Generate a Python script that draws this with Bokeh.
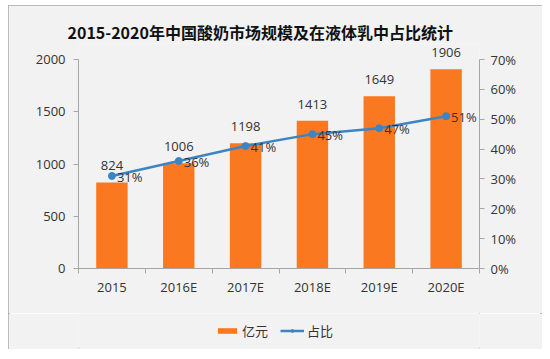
from bokeh.plotting import figure
from bokeh.layouts import column
from bokeh.models import (Range1d, LinearAxis, FixedTicker, Legend, LegendItem,
                          ColumnDataSource, Title)
from bokeh.embed import file_html
from bokeh.resources import INLINE
from bokeh.core.properties import value

# ---- data ----
categories = ["2015", "2016E", "2017E", "2018E", "2019E", "2020E"]
market_size = [824, 1006, 1198, 1413, 1649, 1906]   # 亿元
share_pct = [31, 36, 41, 45, 47, 51]                # 占比 %
left_ticks = [0, 500, 1000, 1500, 2000]
right_ticks = [0, 10, 20, 30, 40, 50, 60, 70]
title_text = "2015-2020年中国酸奶市场规模及在液体乳中占比统计"
series_names = ["亿元", "占比"]

BAR = "#FA7820"
LINE = "#3C85C4"
BG = "#F2F2F2"
AXIS = "#A6A6A6"
TXT = "#333333"
NUMFONT = "Open Sans"
CJK = "Noto Sans CJK SC"

# frame is a little taller than the axes so that the top data label is not clipped
AXIS_PX = 209
FRAME_PX = 225
headroom = FRAME_PX / AXIS_PX

xs = [i + 0.5 for i in range(len(categories))]
src = ColumnDataSource(dict(
    x=xs, size=market_size, share=share_pct,
    size_label=[str(v) for v in market_size],
    share_label=[f"{v}%" for v in share_pct],
))

p = figure(width=534, height=308, output_backend="svg", toolbar_location=None,
           x_range=Range1d(0, len(categories)),
           y_range=Range1d(0, left_ticks[-1] * headroom),
           min_border_left=70, min_border_right=63, min_border_top=308 - 45 - FRAME_PX,
           min_border_bottom=45,
           background_fill_color=BG, border_fill_color=BG, outline_line_color=None)
p.title = None
p.add_layout(Title(text=title_text, text_font=CJK, text_font_size="16px",
                   text_font_style="bold", text_color="#111111",
                   align="left", offset=-11, standoff=0), "above")

p.extra_y_ranges = {"pct": Range1d(0, right_ticks[-1] * headroom)}

p.xgrid.visible = False
p.ygrid.visible = False

bars = p.vbar(x="x", top="size", width=0.47, source=src, fill_color=BAR, line_color=None)
line = p.line(x="x", y="share", source=src, y_range_name="pct", line_color=LINE, line_width=2.5)
pts = p.scatter(x="x", y="share", source=src, y_range_name="pct", size=7,
                fill_color=LINE, line_color=LINE)

p.text(x="x", y="size", text="size_label", source=src, text_align="center",
       text_baseline="bottom", y_offset=-12, text_font=value(NUMFONT),
       text_font_size="13px", text_color=TXT)
p.text(x="x", y="share", text="share_label", source=src, y_range_name="pct",
       text_align="left", text_baseline="middle", x_offset=5, y_offset=1,
       text_font=value(NUMFONT), text_font_size="13px", text_color=TXT)

# x axis: labels at centres, ticks at category boundaries
xa = p.xaxis[0]
xa.ticker = FixedTicker(ticks=xs, minor_ticks=list(range(len(categories) + 1)))
xa.major_label_overrides = {x: c for x, c in zip(xs, categories)}
xa.major_tick_in = 0
xa.major_tick_out = 0
xa.minor_tick_in = 0
xa.minor_tick_out = 5
xa.minor_tick_line_color = AXIS
xa.axis_line_color = AXIS
xa.major_label_text_font = NUMFONT
xa.major_label_text_font_size = "13px"
xa.major_label_text_color = TXT
xa.major_label_standoff = 4

ya = p.yaxis[0]
ya.ticker = FixedTicker(ticks=left_ticks)
ya.bounds = (left_ticks[0], left_ticks[-1])
ya.major_tick_in = 0
ya.major_tick_out = 5
ya.minor_tick_line_color = None
ya.axis_line_color = AXIS
ya.major_tick_line_color = AXIS
ya.major_label_text_font = NUMFONT
ya.major_label_text_font_size = "13px"
ya.major_label_text_color = TXT
ya.major_label_standoff = 8

ra = LinearAxis(y_range_name="pct", ticker=FixedTicker(ticks=right_ticks),
                bounds=(right_ticks[0], right_ticks[-1]))
ra.major_label_overrides = {t: f"{t}%" for t in right_ticks}
ra.major_tick_in = 0
ra.major_tick_out = 5
ra.minor_tick_line_color = None
ra.axis_line_color = AXIS
ra.major_tick_line_color = AXIS
ra.major_label_text_font = NUMFONT
ra.major_label_text_font_size = "13px"
ra.major_label_text_color = TXT
ra.major_label_standoff = 6
p.add_layout(ra, "right")

# ---- legend strip (separate small figure, same background) ----
# its ranges are set away from the data so the proxy glyphs themselves are not shown
q = figure(width=534, height=36, output_backend="svg", toolbar_location=None,
           x_range=Range1d(-20, -10), y_range=Range1d(-20, -10),
           x_axis_type=None, y_axis_type=None, min_border=0,
           background_fill_color=BG, border_fill_color=BG, outline_line_color=None)
q.xgrid.visible = False
q.ygrid.visible = False
lb = q.vbar(x="x", top="size", width=0.47, source=src, fill_color=BAR, line_color=None)
ll = q.line(x="x", y="share", source=src, line_color=LINE, line_width=2.5)
lp = q.scatter(x="x", y="share", source=src, size=6, fill_color=LINE, line_color=LINE)
legend = Legend(items=[LegendItem(label=series_names[0], renderers=[lb]),
                       LegendItem(label=series_names[1], renderers=[ll, lp])],
                orientation="horizontal", location=(137, 9),
                background_fill_alpha=0, border_line_color=None,
                label_text_font=CJK, label_text_font_size="13px",
                label_text_color=TXT, glyph_width=24, glyph_height=7,
                spacing=12, label_standoff=3, margin=0, padding=3)
q.add_layout(legend, "center")

layout = column(p, q, spacing=0,
                styles={"margin-left": "8px", "margin-top": "5px",
                        "outline": "2px solid #A8A8A8", "outline-offset": "-2px"})

open("out.html", "w").write(file_html(layout, INLINE))
